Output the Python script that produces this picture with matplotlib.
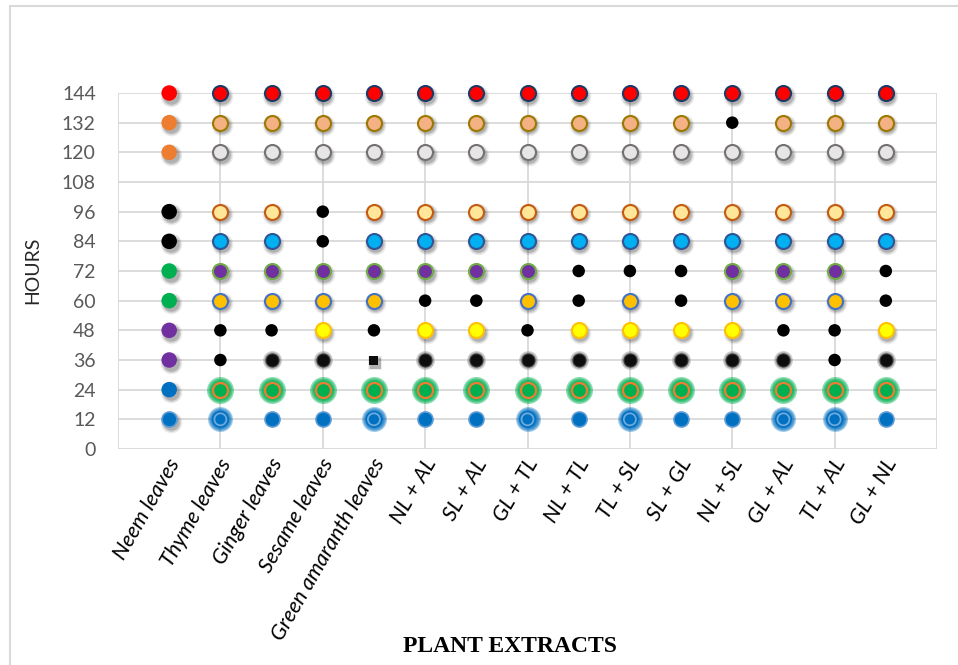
import numpy as np
import matplotlib
matplotlib.use("Agg")
import matplotlib.pyplot as plt
import matplotlib.transforms as mtransforms
from matplotlib.patches import Rectangle

# ---- data ----
categories = ["Neem leaves", "Thyme leaves", "Ginger leaves", "Sesame leaves",
              "Green amaranth leaves", "NL + AL", "SL + AL", "GL + TL", "NL + TL",
              "TL + SL", "SL + GL", "NL + SL", "GL + AL", "TL + AL", "GL + NL"]
hours = [144, 132, 120, 96, 84, 72, 60, 48, 36, 24, 12]

# points drawn as plain small black dots
black_dot_cats = ["Thyme leaves", "Thyme leaves", "Ginger leaves", "Sesame leaves", "Sesame leaves",
                  "Green amaranth leaves", "NL + AL", "SL + AL", "GL + TL", "NL + TL", "NL + TL",
                  "TL + SL", "SL + GL", "SL + GL", "NL + SL", "GL + AL", "TL + AL", "TL + AL",
                  "GL + NL", "GL + NL"]
black_dot_hours = [48, 36, 48, 96, 84,
                   48, 60, 60, 48, 72, 60,
                   72, 72, 60, 132, 48, 48, 36,
                   72, 60]
# black square point
square_cats = ["Green amaranth leaves"]
square_hours = [36]
# 12 h points with glow
glow12_cats = ["Thyme leaves", "Green amaranth leaves", "GL + TL", "TL + SL", "GL + AL", "TL + AL"]

# ---- styles ----
neem_colors = {144: "#FF0000", 132: "#ED7D31", 120: "#ED7D31", 96: "#000000", 84: "#000000",
               72: "#00B050", 60: "#00B050", 48: "#7030A0", 36: "#7030A0", 24: "#0070C0", 12: "#0070C0"}
std_style = {144: ("#FF0000", "#203864"), 132: ("#F4B183", "#9C7A00"), 120: ("#E7E6E6", "#767171"),
             96: ("#FFE699", "#C55A11"), 84: ("#00B0F0", "#2F5597"), 72: ("#7030A0", "#70AD47"),
             60: ("#FFC000", "#4472C4"), 48: ("#FFFF00", "#FFC000"), 36: ("#0D0D0D", "#595959"),
             24: ("#00B050", "#ED7D31"), 12: ("#0070C0", "#5B9BD5")}

DPI = 100
fig = plt.figure(figsize=(9.58, 6.65), dpi=DPI)
ax = fig.add_axes([118/958, 216/665, 819/958, 356/665])

def pt(px):
    return px * 72 / DPI

def shadow(xs, ys, d, marker="o"):
    tr = ax.transData + mtransforms.ScaledTranslation(1.5/DPI, -2.5/DPI, fig.dpi_scale_trans)
    for k, a in [(1.45, 0.07), (1.28, 0.1), (1.1, 0.16)]:
        ax.scatter(xs, ys, s=pt(d*k)**2, c="#000000", alpha=a, lw=0, marker=marker,
                   transform=tr, zorder=2, clip_on=False)

def glow(xs, ys, d_in, d_out, color, alpha=0.35, n=5):
    for dd in np.linspace(d_out, d_in, n):
        ax.scatter(xs, ys, s=pt(dd)**2, c=color, alpha=alpha, lw=0, zorder=2.5, clip_on=False)

def dots(xs, ys, d, fc, ec="none", lw=0.0, marker="o", z=3):
    ax.scatter(xs, ys, s=pt(d)**2, c=fc, edgecolors=ec, linewidths=lw, marker=marker,
               zorder=z, clip_on=False)

xpos = {c: i + 1 for i, c in enumerate(categories)}
black_set = set(zip(black_dot_cats, black_dot_hours))
square_set = set(zip(square_cats, square_hours))

# neem column: solid markers
for h in hours:
    x = [xpos["Neem leaves"]]
    shadow(x, [h], 15)
    if h == 12:
        dots(x, [h], 15, neem_colors[h], "#5B9BD5", 1.2)
    else:
        dots(x, [h], 15.5, neem_colors[h])

# the other columns
groups = {}
for c in categories[1:]:
    for h in hours:
        if (c, h) in black_set:
            key = "black"
        elif (c, h) in square_set:
            key = "square"
        elif h == 12 and c in glow12_cats:
            key = "glow12"
        else:
            key = h
        groups.setdefault(key, ([], []))
        groups[key][0].append(xpos[c])
        groups[key][1].append(h)

for key, (xs, ys) in groups.items():
    if key == "black":
        dots(xs, ys, 12.5, "#000000")
    elif key == "square":
        shadow(xs, ys, 10, marker="s")
        dots(xs, ys, 9, "#0D0D0D", marker="s")
    elif key == "glow12":
        glow(xs, ys, 16, 25, "#0070C0", alpha=0.35)
        dots(xs, ys, 17, "#0070C0")
        dots(xs, ys, 12, "none", "#6FA8DC", 1.3, z=3.5)
    elif key == 24:
        glow(xs, ys, 15, 27, "#00B050", alpha=0.45)
        dots(xs, ys, 15, std_style[24][0], std_style[24][1], 1.6)
    elif key == 36:
        glow(xs, ys, 13, 19, "#808080", alpha=0.35, n=4)
        dots(xs, ys, 13, std_style[36][0], "#3A3A3A", 0.8)
    elif key == 12:
        dots(xs, ys, 15, std_style[12][0], std_style[12][1], 1.2)
    else:
        shadow(xs, ys, 15)
        dots(xs, ys, 15, std_style[key][0], std_style[key][1], 1.5)

# ---- axes ----
ax.set_xlim(0, 16)
ax.set_ylim(0, 144)
ax.set_yticks(np.arange(0, 145, 12))
# tick marks are hidden; labels sit a little right of each column like the original
ax.set_xticks([xpos[c] + 0.12 for c in categories])
ax.set_xticklabels(categories, rotation=60, ha="right", va="center",
                   rotation_mode="anchor", fontfamily="Lato", fontstyle="italic",
                   fontsize=15.5, color="#000000")
ax.grid(True, axis="y", color="#D9D9D9", lw=1.3)
for xv in range(0, 17, 2):
    ax.axvline(xv, color="#D9D9D9", lw=1.3, zorder=0)
ax.set_axisbelow(True)
for s in ax.spines.values():
    s.set_visible(False)
ax.tick_params(axis="both", length=0)
ax.tick_params(axis="x", pad=8)
ax.tick_params(axis="y", pad=16, labelsize=14, labelcolor="#595959")
for lab in ax.get_yticklabels():
    lab.set_fontfamily("Lato")

fig.text(33/958, 1 - 270/665, "HOURS", rotation=90, ha="center", va="center",
         fontsize=14, fontfamily="Lato", color="#262626")
fig.text(510/958, 1 - 647/665, "PLANT EXTRACTS", ha="center", va="center",
         fontsize=17, fontfamily="Liberation Serif", fontweight="bold")

fig.patches.append(Rectangle((10/958, -0.1), 1.2, 1.1 - 6/665, transform=fig.transFigure,
                             fill=False, ec="#D9D9D9", lw=1.5))

fig.savefig("out.png", dpi=DPI)
